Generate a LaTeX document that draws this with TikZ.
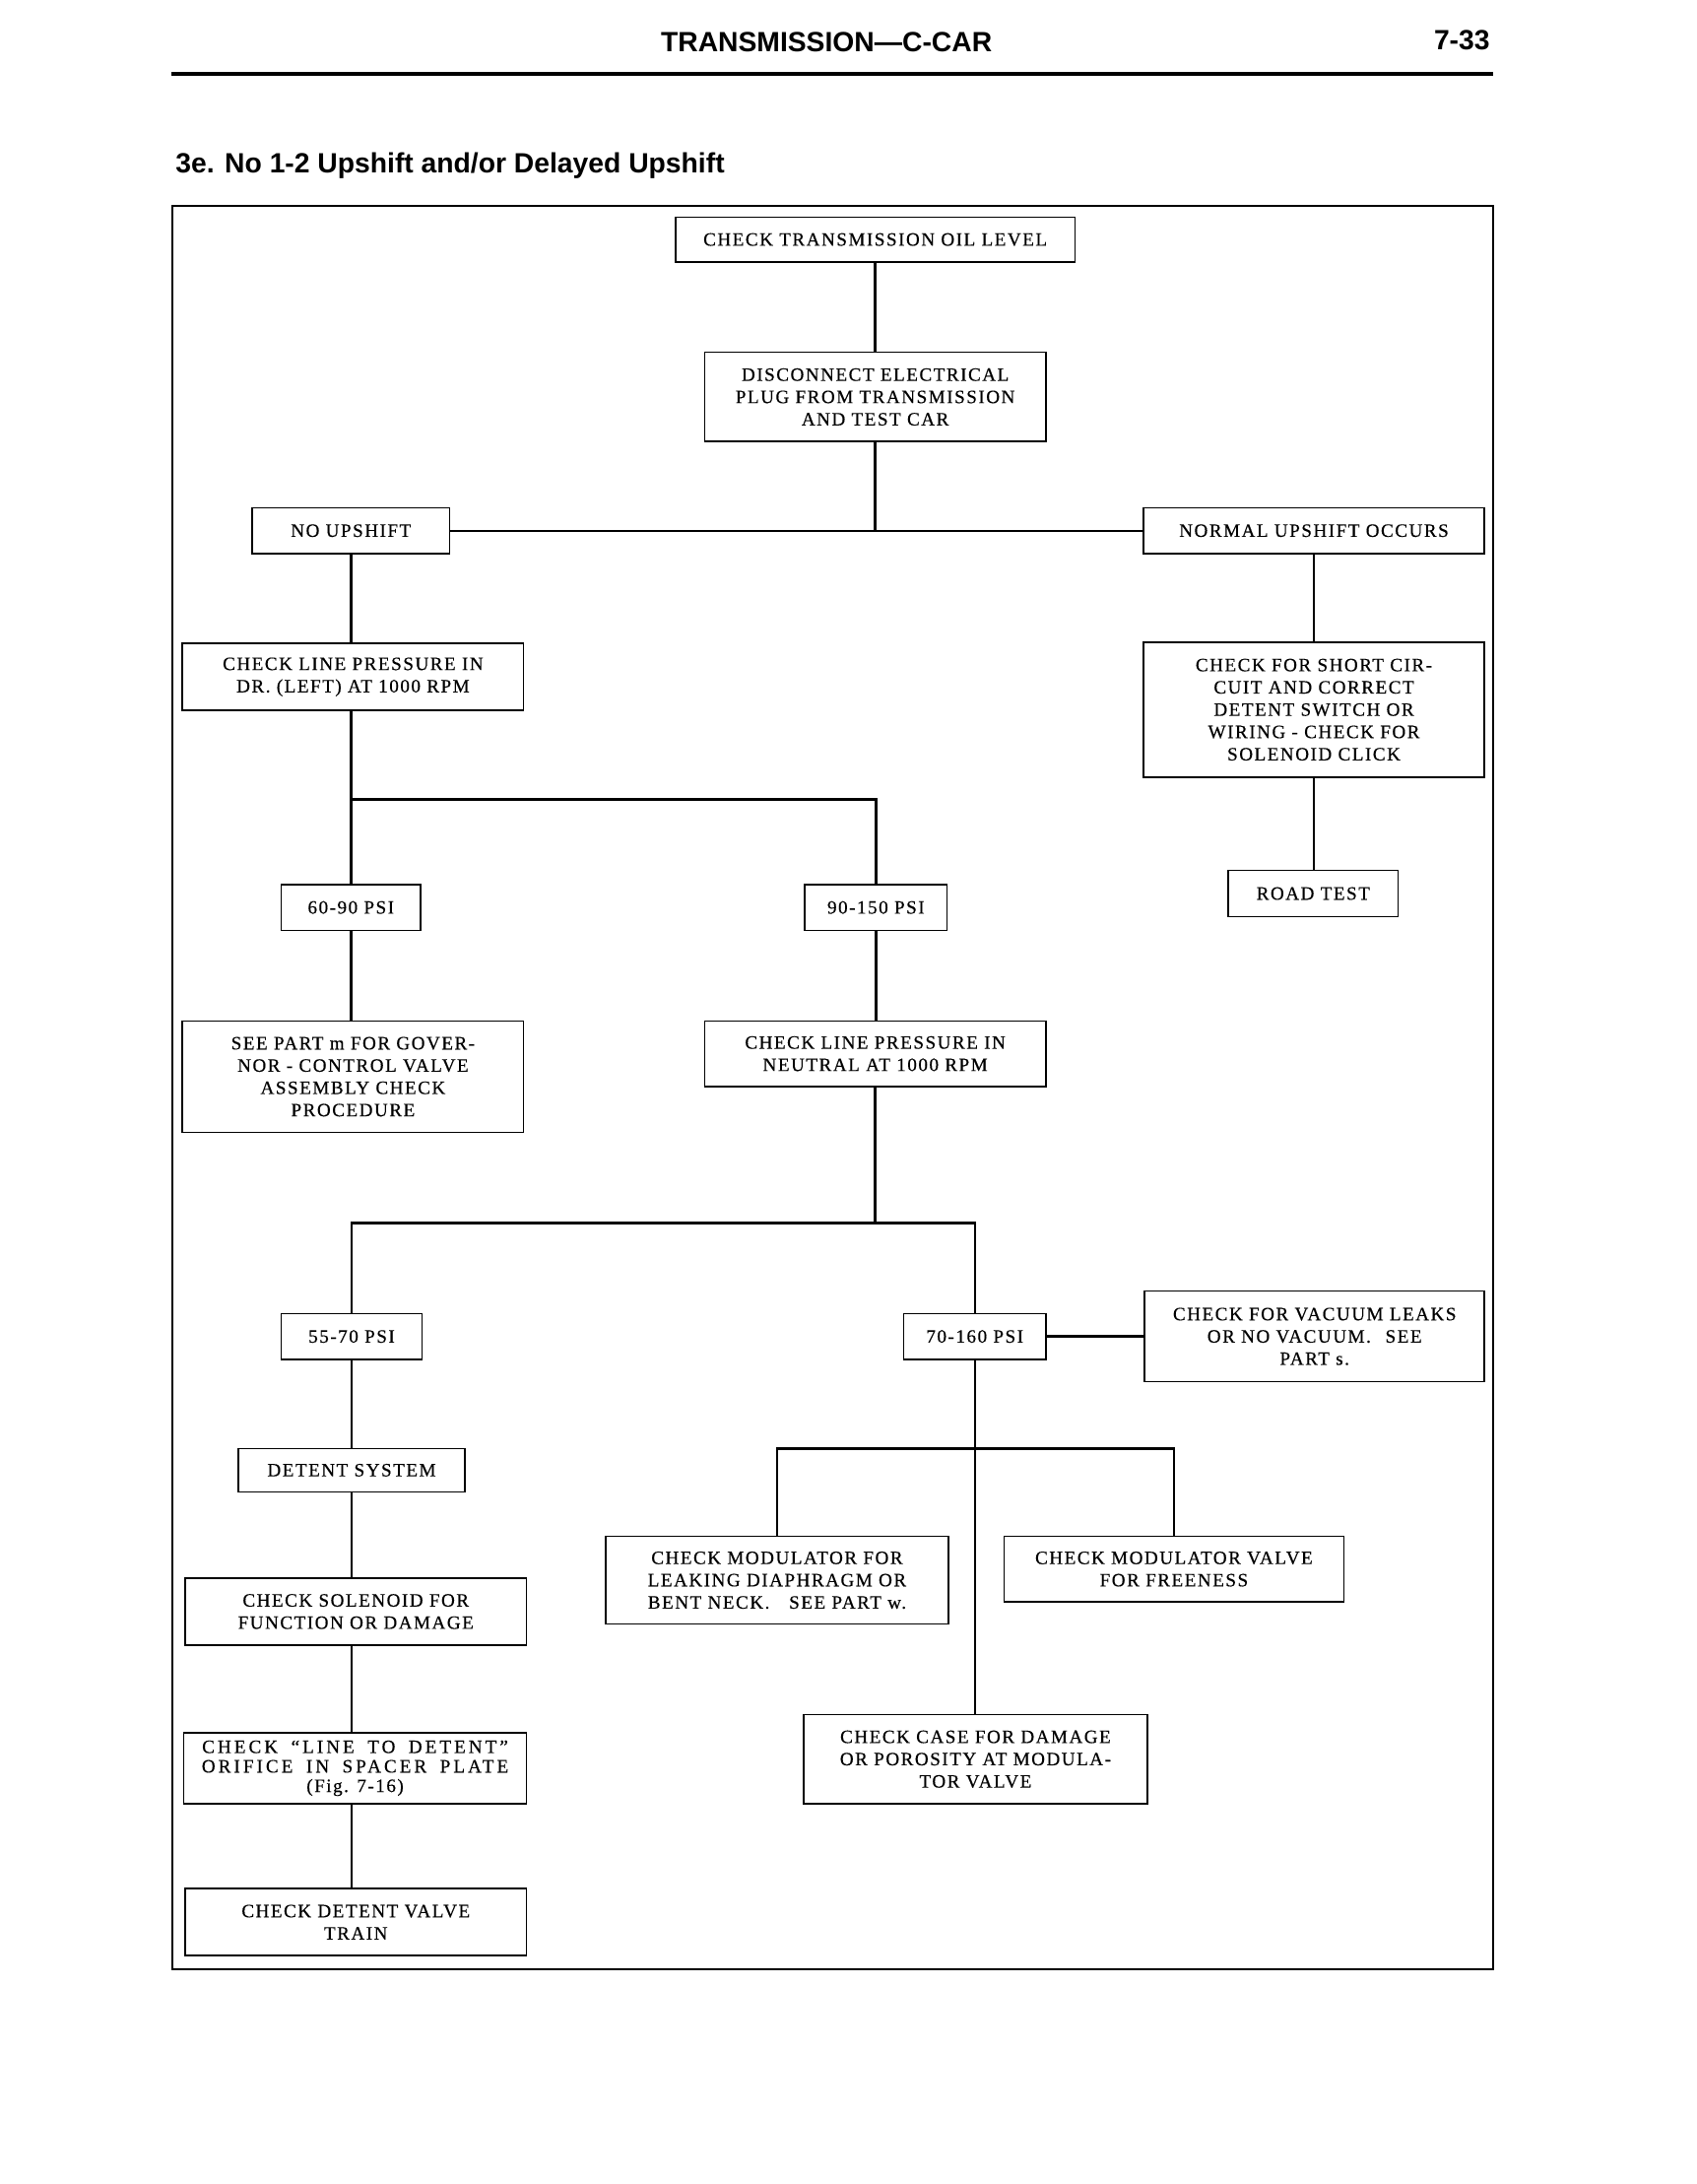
\documentclass[tikz,border=0pt]{standalone}
\usepackage{fontspec}
\newfontfamily\boxfont[LetterSpace=8,FakeBold=0.4]{Liberation Serif}
\newfontfamily\widefont[LetterSpace=16,FakeBold=0.4]{Liberation Serif}
\newfontfamily\hdfont{Liberation Sans}
\begin{document}
\begin{tikzpicture}[x=1pt,y=-1pt,
  bx/.style={draw, line width=1.1pt, inner sep=0pt, align=center,
    font=\boxfont\fontsize{13.5}{16}\selectfont},
  conn/.style={line width=1.7pt},
  hd/.style={inner sep=0pt, font=\hdfont\bfseries\fontsize{20}{24}\selectfont}]
\useasboundingbox (0,0) rectangle (1218,1568);
% header
\node[hd, anchor=base] (hdr) at (593.5,37) {TRANSMISSION—C-CAR};
\node[hd, anchor=base east] (pg) at (1070,36) {7-33};
\draw[line width=3pt] (123,53) -- (1072,53);
\node[hd, anchor=base west] (ttl) at (126,124) {3e. No 1-2 Upshift and/or Delayed Upshift};
% frame
\draw[line width=1.2pt] (124,148) rectangle (1072,1414);
% boxes
\node[bx, minimum width=287pt, minimum height=32pt] (b1) at (628.5,172) {CHECK TRANSMISSION OIL LEVEL};
\node[bx, minimum width=245pt, minimum height=64pt] (b2) at (628.5,285) {DISCONNECT ELECTRICAL\\PLUG FROM TRANSMISSION\\AND TEST CAR};
\node[bx, minimum width=142pt, minimum height=33pt] (b3) at (252,381) {NO UPSHIFT};
\node[bx, minimum width=245pt, minimum height=33pt] (b4) at (943.5,381) {NORMAL UPSHIFT OCCURS};
\node[bx, minimum width=245pt, minimum height=48pt] (b5) at (253.5,486) {CHECK LINE PRESSURE IN\\DR. (LEFT) AT 1000 RPM};
\node[bx, minimum width=245pt, minimum height=97pt] (b6) at (943.5,509.5) {CHECK FOR SHORT CIR-\\CUIT AND CORRECT\\DETENT SWITCH OR\\WIRING - CHECK FOR\\SOLENOID CLICK};
\node[bx, minimum width=122pt, minimum height=33pt] (b7) at (943,641.5) {ROAD TEST};
\node[bx, minimum width=100pt, minimum height=33pt] (b8) at (252,651.5) {60-90 PSI};
\node[bx, minimum width=102pt, minimum height=33pt] (b9) at (629,651.5) {90-150 PSI};
\node[bx, minimum width=245pt, minimum height=80pt] (b10) at (253.5,773) {SEE PART m FOR GOVER-\\NOR - CONTROL VALVE\\ASSEMBLY CHECK\\PROCEDURE};
\node[bx, minimum width=245pt, minimum height=47pt] (b11) at (628.5,756.5) {CHECK LINE PRESSURE IN\\NEUTRAL AT 1000 RPM};
\node[bx, minimum width=101pt, minimum height=33pt] (b12) at (252.5,959.5) {55-70 PSI};
\node[bx, minimum width=102pt, minimum height=33pt] (b13) at (700,959.5) {70-160 PSI};
\node[bx, minimum width=244pt, minimum height=65pt] (b14) at (944,959.5) {CHECK FOR VACUUM LEAKS\\OR NO VACUUM.\hspace{6pt} SEE\\PART s.};
\node[bx, minimum width=163pt, minimum height=31pt] (b15) at (252.5,1055.5) {DETENT SYSTEM};
\node[bx, minimum width=245pt, minimum height=48pt] (b16) at (255.5,1157) {CHECK SOLENOID FOR\\FUNCTION OR DAMAGE};
\node[bx, minimum width=246pt, minimum height=51pt, font=\widefont\fontsize{13.5}{14}\selectfont] (b17) at (255,1269.5) {CHECK \hspace{4pt}“LINE \hspace{4pt}TO \hspace{4pt}DETENT”\\ORIFICE \hspace{4pt}IN \hspace{4pt}SPACER \hspace{4pt}PLATE\\\boxfont(Fig. 7-16)};
\node[bx, minimum width=245pt, minimum height=48pt] (b18) at (255.5,1380) {CHECK DETENT VALVE\\TRAIN};
\node[bx, minimum width=246pt, minimum height=63pt] (b20) at (558,1134.5) {CHECK MODULATOR FOR\\LEAKING DIAPHRAGM OR\\BENT NECK.\hspace{14pt}SEE PART w.};
\node[bx, minimum width=244pt, minimum height=47pt] (b21) at (843,1126.5) {CHECK MODULATOR VALVE\\FOR FREENESS};
\node[bx, minimum width=247pt, minimum height=64pt] (b22) at (700.5,1263) {CHECK CASE FOR DAMAGE\\OR POROSITY AT MODULA-\\TOR VALVE};
% junction coordinates
\coordinate (j1) at (252,574);
\coordinate (j2) at (628.5,878);
\coordinate (j3) at (700,1040);
% connectors
\draw[conn] (b1.south) -- (b2.north);
\draw[conn] (b2.south) -- (b2.south |- b3.east);
\draw[conn] (b3.east) -- (b4.west);
\draw[conn] (b3.south) -- (b3.south |- b5.north);
\draw[conn] (b4.south) -- (b4.south |- b6.north);
\draw[conn] (b6.south) -- (b6.south |- b7.north);
\draw[conn] (b8.north) -- (b8.north |- b5.south);
\draw[conn] (j1) -| (b9.north);
\draw[conn] (b8.south) -- (b8.south |- b10.north);
\draw[conn] (b9.south) -- (b9.south |- b11.north);
\draw[conn] (b11.south) -- (j2);
\draw[conn] (b12.north) -- (b12.north |- j2) -- (b13.north |- j2) -- (b13.north);
\draw[conn] (b13.east) -- (b14.west);
\draw[conn] (b12.south) -- (b12.south |- b15.north);
\draw[conn] (b15.south) -- (b15.south |- b16.north);
\draw[conn] (b16.south -| b15.south) -- (b15.south |- b17.north);
\draw[conn] (b17.south -| b15.south) -- (b15.south |- b18.north);
\draw[conn] (b13.south) -- (b13.south |- b22.north);
\draw[conn] (b20.north) |- (b21.north |- j3) -- (b21.north);
\end{tikzpicture}
\end{document}
